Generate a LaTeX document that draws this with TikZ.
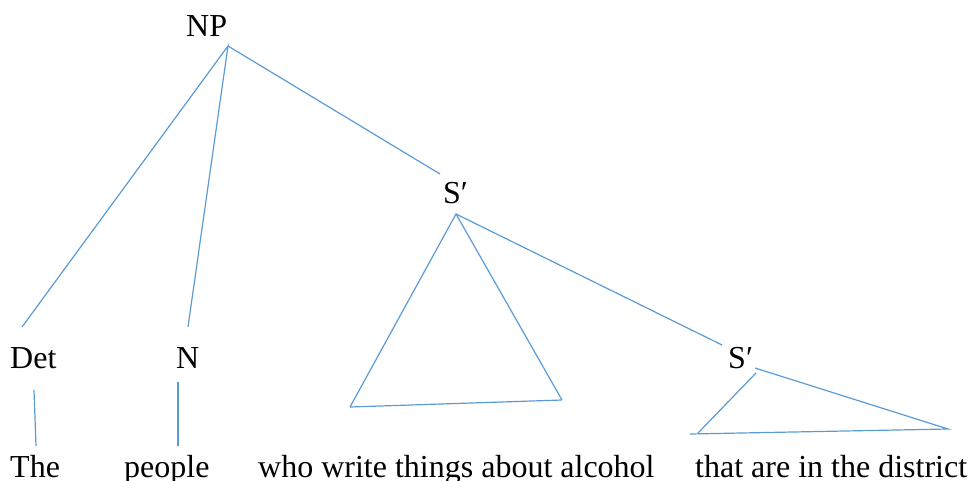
\documentclass[tikz,border=0pt]{standalone}
\usepackage{fontspec}
\setmainfont{Liberation Serif}
\begin{document}
\begin{tikzpicture}[x=1pt,y=-1pt,
  lbl/.style={anchor=base west,inner sep=0pt,font=\fontsize{32}{38}\selectfont},
  br/.style={draw=linecol,line width=1.2pt}]
\definecolor{linecol}{RGB}{91,155,213}
\useasboundingbox (0,0) rectangle (968,481);
% labels
\node[lbl] (np) at (186,37) {NP};
\node[lbl] (det) at (10,368) {Det};
\node[lbl] (n) at (176,368) {N};
\node[lbl] (s1) at (443,203) {S′};
\node[lbl] (s2) at (728,368) {S′};
\node[lbl] (the) at (10,477) {The};
\node[lbl] (people) at (124,477) {people};
\node[lbl] (who) at (258,477) {who write things about alcohol};
\node[lbl] (that) at (695,477) {that are in the district};
% branch points
\coordinate (npb) at (228,46);
\coordinate (dett) at (22,327);
\coordinate (nt) at (188,327);
\coordinate (s1t) at (440,174);
\coordinate (dTop) at (34,390);
\coordinate (dBot) at (36,446);
\coordinate (nTop) at (178,382);
\coordinate (nBot) at (178,446);
\coordinate (s1b) at (456,214);
\coordinate (t1l) at (350,407);
\coordinate (t1r) at (562,400);
\coordinate (s2t) at (722,345);
\coordinate (t2a) at (756,373);
\coordinate (t2b) at (755,368);
\coordinate (t2l) at (698,433);
\coordinate (t2r) at (948,429);
\coordinate (t2e) at (690,434);
% branches
\draw[br] (dett) -- (npb) -- (nt);
\draw[br] (npb) -- (s1t);
\draw[br] (dTop) -- (dBot);
\draw[br] (nTop) -- (nBot);
\draw[br] (t1l) -- (s1b) -- (t1r);
\draw[br] (t1l) -- (t1r);
\draw[br] (s1b) -- (s2t);
\draw[br] (t2a) -- (t2l);
\draw[br] (t2b) -- (t2r) -- (t2e);
\end{tikzpicture}
\end{document}
